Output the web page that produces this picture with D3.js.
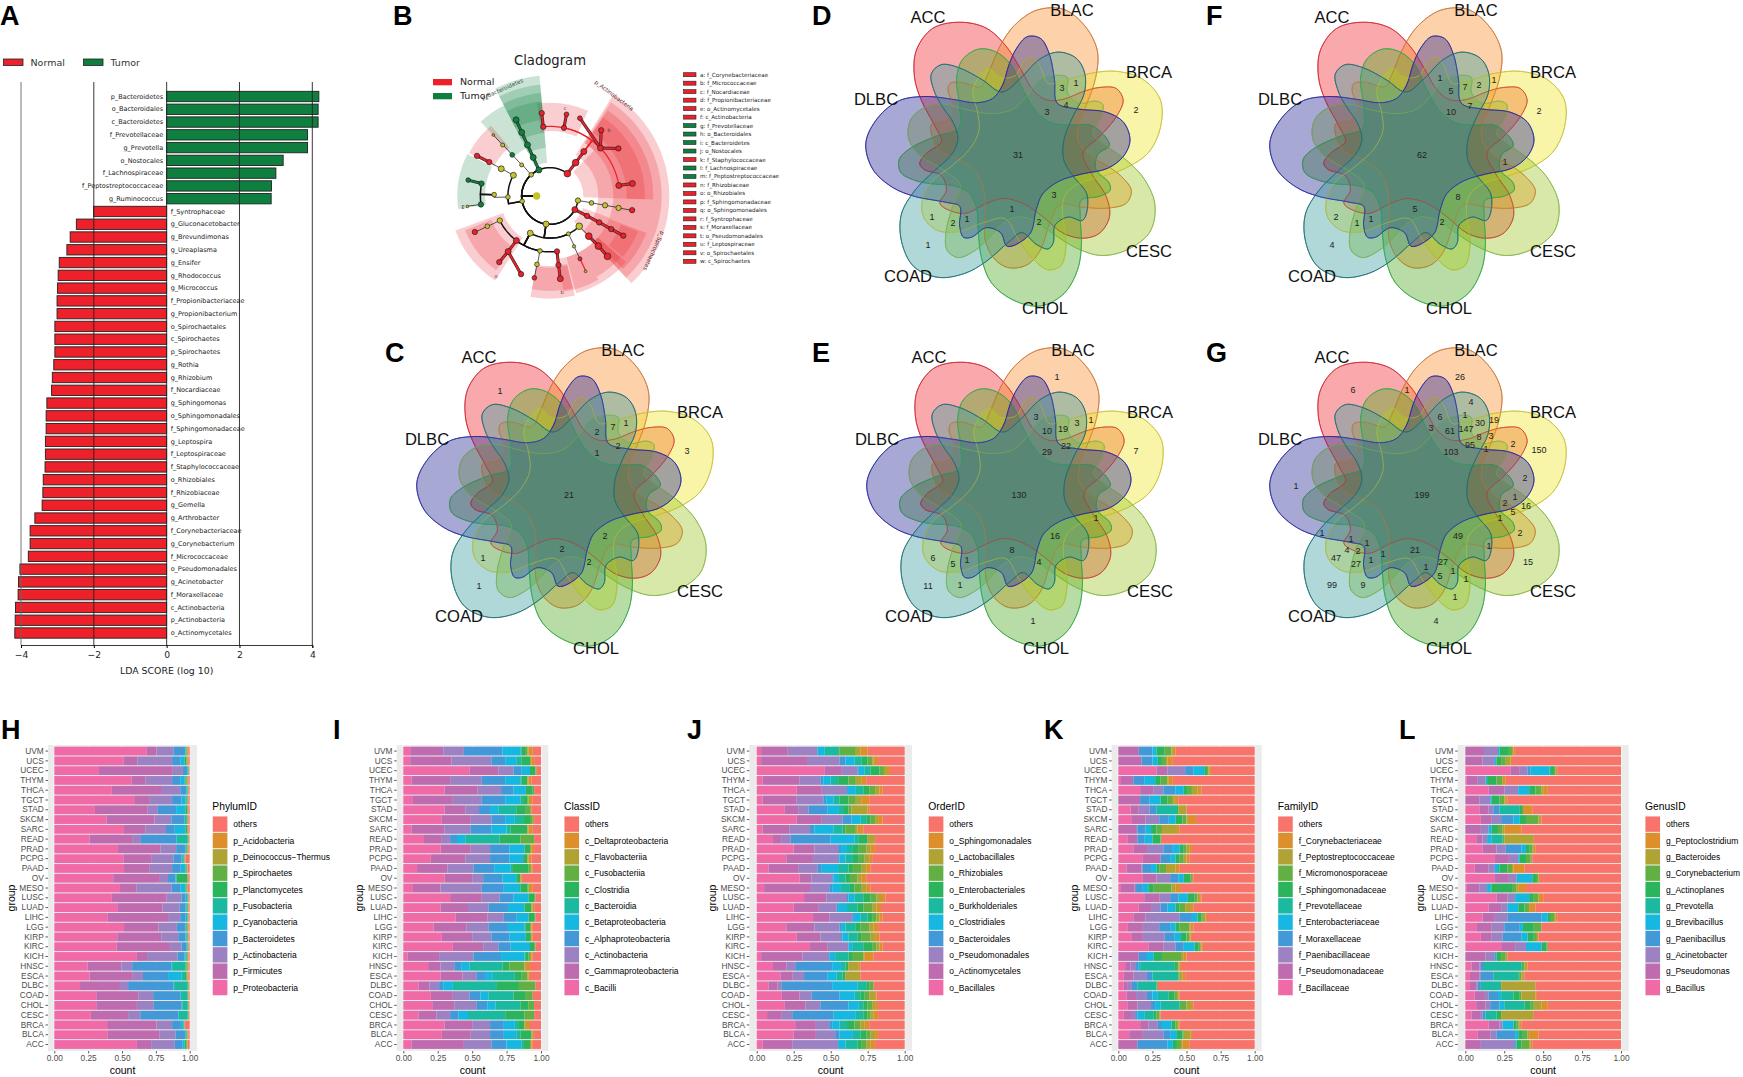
<!DOCTYPE html>
<html>
<head>
<meta charset="utf-8">
<script src="https://cdn.jsdelivr.net/npm/d3@7"></script>
<style>
html, body { margin: 0; padding: 0; background: #fff; }
svg { display: block; }
text { font-family: "Liberation Sans", Arial, sans-serif; }
.dv text, text.dv { font-family: "DejaVu Sans", sans-serif; }
</style>
</head>
<body>
<svg id="fig" width="1743" height="1077"></svg>
<script>
// ---- panel A : LDA scores
const ldaNames = ['p_Bacteroidetes','o_Bacteroidales','c_Bacteroidetes','f_Prevotellaceae','g_Prevotella','o_Nostocales','f_Lachnospiraceae','f_Peptostreptococcaceae','g_Ruminococcus',
  'f_Syntrophaceae','g_Gluconacetobacter','g_Brevundimonas','g_Ureaplasma','g_Ensifer','g_Rhodococcus','g_Micrococcus','f_Propionibacteriaceae','g_Propionibacterium','o_Spirochaetales','c_Spirochaetes','p_Spirochaetes','g_Rothia','g_Rhizobium','f_Nocardiaceae','g_Sphingomonas','o_Sphingomonadales','f_Sphingomonadaceae','g_Leptospira','f_Leptospiraceae','f_Staphylococcaceae','o_Rhizobiales','f_Rhizobiaceae','g_Gemella','g_Arthrobacter','f_Corynebacteriaceae','g_Corynebacterium','f_Micrococcaceae','o_Pseudomonadales','g_Acinetobacter','f_Moraxellaceae','c_Actinobacteria','p_Actinobacteria','o_Actinomycetales'];
const ldaScores = [4.18,4.16,4.16,3.87,3.87,3.2,3.0,2.88,2.87,
  -2.01,-2.48,-2.65,-2.74,-2.95,-2.98,-3.0,-3.01,-3.01,-3.07,-3.07,-3.07,-3.1,-3.14,-3.16,-3.29,-3.31,-3.31,-3.33,-3.33,-3.34,-3.39,-3.4,-3.42,-3.62,-3.75,-3.75,-3.8,-4.03,-4.07,-4.08,-4.15,-4.16,-4.17];
const ldaTicks = [-4,-2,0,2,4];

// ---- panel B : cladogram. id, parent, angle (deg, clockwise from north), level, kind, dot size
const cladeNodes = [
  ['pB','root',-23.2,0,'g',9],['cB','pB',-23.5,1,'g',9],['oB','cB',-23.8,2,'g',9],['fB','oB',-24,3,'g',9],['gB','fB',-24,4,'g',9],
  ['pU','root',-41.6,0,'y',7],['cU','pU',-42.4,1,'y',6],['oN','cU',-42.6,2,'g',7],['fU','oN',-42.9,3,'y',6],['gU','fU',-42.9,4,'y',4],
  ['pV','root',-100.6,0,'y',7],['cV','pV',-60.5,1,'y',9],['cW','pV',-91.4,1,'y',7],
  ['oV','cV',-60.8,2,'y',9],['fV','oV',-60.8,3,'r',8],['gV','fV',-61.2,4,'r',8],
  ['oW','cW',-88.6,2,'y',7],['fL','oW',-79.7,3,'g',8],['fP','oW',-97,3,'g',8],['gL','fL',-79,4,'g',7],['gP','fP',-97.2,4,'y',4],
  ['pA','root',37.8,0,'r',10],['cA','pA',37.6,1,'r',10],['oA','cA',37.3,2,'r',9],
  ['fA1','oA',-5.5,3,'r',8],['fA2','oA',11.6,3,'r',8],['fA3','oA',46.5,3,'r',9],['fA4','oA',81.3,3,'r',9],
  ['gA1','fA1',-5.7,4,'r',8],['gA2','fA2',11.4,4,'r',7],['gA3','fA3',21,4,'r',7],['gA4','fA3',37.9,4,'r',8],['gA5','fA3',55.2,4,'r',8],['gA6','fA4',81.4,4,'r',9],
  ['pY','root',-260.8,0,'y',8],['cY','pY',-260.5,1,'y',7],['oY','cY',-260.4,2,'y',8],['fY','oY',-260.1,3,'y',8],['gY','fY',-260.2,4,'r',8],
  ['pS','root',-241.3,0,'r',9],['cS','pS',-241.8,1,'r',8],['oS','cS',-241.8,2,'r',8],['fS','oS',-241.6,3,'r',8],['gS','fS',-241.6,4,'r',8],
  ['pF','root',-172,0,'y',9],
  ['cF1','pF',-152,1,'y',9],['cF2','pF',-206,1,'y',6],['cF3','pF',-224,1,'y',10],
  ['oF1','cF1',-116,2,'y',8],['oF2','cF1',-143,2,'r',9],['oF3','cF1',-169.6,2,'y',7],['oF4','cF1',-187.2,2,'r',8],
  ['fF1','oF1',-115.8,3,'y',7],['gF1','fF1',-115.6,4,'r',8],
  ['fF2','oF2',-143,3,'r',9],['gF2a','fF2',-142.5,4,'r',8],['gF2b','fF2',-159.7,4,'r',8],
  ['fF3','oF3',-169.2,3,'y',7],['gF3','fF3',-169.2,4,'r',7],
  ['fF4','oF4',-187,3,'r',8],['gF4','fF4',-187.1,4,'r',9],
  ['oF5','cF2',-205.5,2,'y',5],['fF5','oF5',-205.5,3,'r',6],['gF5','fF5',-205.3,4,'y',4],
  ['oF6','cF3',-224,2,'r',10],['fF6','oF6',-224,3,'r',10],['gF6','fF6',-223.6,4,'r',10]
];
// shaded clade sectors: from angle, to angle, inner, outer, kind
const cladeSectors = [
  [44,92,100,190,'r'],[32,110,145,358,'r'],[33,110,190,335,'r'],[34,92,190,310,'r'],[34,92,230,285,'r'],
  [110,137,105,358,'r'],[110,137,145,335,'r'],[111,135,190,310,'r'],[112,130,230,285,'r'],
  [131,165,190,302,'r'],[131,150,190,280,'r'],[150,172,190,290,'r'],
  [166,191,215,308,'r'],[166,191,210,285,'r'],
  [213,250,150,302,'r'],[216,248,190,275,'r'],
  [-8,24,195,280,'r'],[-62,-40,190,275,'r'],
  [-27,-5,100,362,'g'],[-27,-5,145,335,'g'],[-27,-5,190,310,'g'],[-27,-5,230,285,'g'],
  [-43,-27,160,305,'g'],[-98,-63,195,278,'g']
];
const cladeKeyNames = ['a: f_Corynebacteriaceae','b: f_Micrococcaceae','c: f_Nocardiaceae','d: f_Propionibacteriaceae','e: o_Actinomycetales','f: c_Actinobacteria','g: f_Prevotellaceae','h: o_Bacteroidales','i: c_Bacteroidetes','j: o_Nostocales','k: f_Staphylococcaceae','l: f_Lachnospiraceae','m: f_Peptostreptococcaceae','n: f_Rhizobiaceae','o: o_Rhizobiales','p: f_Sphingomonadaceae','q: o_Sphingomonadales','r: f_Syntrophaceae','s: f_Moraxellaceae','t: o_Pseudomonadales','u: f_Leptospiraceae','v: o_Spirochaetales','w: c_Spirochaetes'];
const cladeKeyKinds = ['r','r','r','r','r','r','g','g','g','g','r','g','g','r','r','r','r','r','r','r','r','r','r'];

// ---- panels C-G : seven set flower venn
const vennSets = ['ACC','BLAC','BRCA','CESC','CHOL','COAD','DLBC'];
const vennFill = ['#f0252f','#fa8c28','#f0e625','#9dc525','#4da71e','#399d9d','#252596'];
const vennEdge = ['#cf2a38','#c9773a','#c9c23c','#86b84a','#35a848','#1f6f73','#2a2aa0'];
// outline of one set, in picture px x3
const outlineAngle = [-23.7,-14,-6.1,2.2,13,27.3,39,45.7,50.4,55.9,62.4,68.7,77.3,88.5,104,115.3,124,133.8,142,150,158,174,199,213,223,238,244,255,261,265,271,280,288,299.6,307,315.9,326];
const outlineRadius = [435,392,327,255,200,186,215,272,318,356,356,317,251,195,227,293,331,339,317,271,200,146,138,173,240,276,239,238,284,296,275,233,258,334,389,438,458];
const vennC = [21,1,2,7,1,1,2,3,2,2,2,1,1];
const vennCSpots = [[0,0],[-69,-104],[28,-63],[44,-68],[57,-72],[28,-42],[49,-49],[118,-44],[36,41],[-7,54],[20,67],[-86,63],[-90,91]];
const vennD = [31,2,1,3,4,3,3,2,1,1,2,1,1];
const vennDSpots = [[0,0],[118,-45],[58,-72],[44,-67],[48,-50],[29,-43],[36,40],[21,67],[-6,54],[-51,64],[-65,68],[-86,62],[-90,90]];
const vennE = [130,1,3,10,19,3,1,22,29,7,1,16,8,4,1,5,6,1,11,1];
const vennESpots = [[0,0],[38,-118],[17,-78],[28,-64],[44,-66],[58,-72],[72,-75],[47,-49],[28,-43],[117,-44],[77,23],[36,41],[-7,55],[20,67],[-52,65],[-66,69],[-86,63],[-59,90],[-91,91],[14,126]];
const vennF = [62,1,5,7,2,1,10,7,2,1,8,5,2,1,1,2,4];
const vennFSpots = [[0,0],[18,-77],[29,-64],[43,-68],[57,-70],[72,-75],[29,-43],[48,-49],[117,-44],[83,7],[36,42],[-7,54],[20,67],[-51,64],[-65,68],[-86,62],[-90,90]];
const vennG = [199,26,6,1,4,1,19,30,6,3,61,147,8,3,2,95,1,150,103,2,1,2,16,5,1,2,49,1,15,27,1,5,1,1,1,21,4,1,1,1,1,4,2,47,27,9,99,1,1];
const vennGSpots = [[0,0],[38,-118],[-69,-105],[-15,-105],[49,-93],[43,-80],[72,-75],[58,-72],[18,-78],[9,-67],[28,-64],[44,-66],[57,-58],[69,-59],[91,-51],[48,-50],[64,-46],[117,-45],[29,-43],[103,-17],[93,2],[83,8],[104,11],[91,17],[78,23],[98,38],[36,41],[67,51],[106,67],[21,67],[31,76],[18,81],[44,84],[4,72],[33,102],[-7,55],[14,126],[-39,59],[-51,65],[-55,48],[-71,44],[-75,55],[-64,56],[-86,63],[-66,69],[-59,90],[-90,90],[-100,38],[-126,-9]];

// ---- panels H-L : stacked bars. cumulative percent after each legend entry, from the bottom entry up, "others" fills to 100
const groups = ['UVM','UCS','UCEC','THYM','THCA','TGCT','STAD','SKCM','SARC','READ','PRAD','PCPG','PAAD','OV','MESO','LUSC','LUAD','LIHC','LGG','KIRP','KIRC','KICH','HNSC','ESCA','DLBC','COAD','CHOL','CESC','BRCA','BLCA','ACC'];
const stackColors = ['#f06aa8','#bf6bb0','#9c82c2','#4398d8','#16b7e0','#1ab9a0','#2cb45c','#62b044','#b0a233','#dc8f2a','#f8736a'];
const phylumNames = ['others','p_Acidobacteria','p_Deinococcus\u2212Thermus','p_Spirochaetes','p_Planctomycetes','p_Fusobacteria','p_Cyanobacteria','p_Bacteroidetes','p_Actinobacteria','p_Firmicutes','p_Proteobacteria'];
const phylumCum = [
[68,75.5,88,96.5,96.7,97,97.5,98,98.5,99],[51,61.5,87,93,96,96.5,97.5,98,98.5,99],[33,87,95,98,98.5,99,99.2,99.4,99.6,99.8],[57,67.5,87,93,96,97,97.5,98,98.5,99],[42.5,79.5,93,97.5,98,98.3,98.6,99,99.2,99.5],[59,70,87,94,97,97.5,98,98.5,98.8,99],[30,69,76.5,90,96.5,97,98,98.5,98.8,99],[38.5,74,86.5,96,96.5,97.5,98,98.5,98.8,99],[51.5,67.5,82.5,89,96.5,97,98,98.5,98.8,99],[26,58,64,90,90.5,98.5,99,99.3,99.5,99.7],
[47,78.5,90,96.5,97,97.5,98,98.5,99,99.3],[51,72,88,94,95,95.5,96,96.3,96.6,97],[51.5,70.5,87,93,96.5,97,97.5,98,98.2,98.5],[43.5,78,84,89.5,90,90.5,98,98.5,99,99],[48.5,60.5,86.5,93,96.5,97,97.5,98,98.3,98.6],[42.5,83,94,97,98,98.3,98.6,99,99.2,99.5],[46.5,80,92.5,97,97.5,98,98.5,99,99.2,99.5],[39.5,84,93,97,98,98.3,98.6,99,99.2,99.5],[51.5,77,90.5,96.5,97,97.5,98,98.5,99,99.3],[46.5,79,91.5,97,97.5,98,98.5,98.8,99,99.3],
[46,85.5,94,97.5,98,98.3,98.6,99,99.2,99.5],[61,68.5,91,96,97,97.5,98,98.5,99,99.3],[24.5,49.5,57.5,86.5,87,97,97.5,98.5,99,99.3],[26,58,65.5,84,94,96.5,97.5,98,98.5,99],[19,48.5,54.5,88,88.5,98.5,99,99.3,99.5,99.7],[31,62,73,93,93.5,98,98.5,99,99.2,99.5],[31,61,73.5,94,94.5,98.5,99,99.3,99.5,99.7],[27,54.5,63.5,91.5,92,98.5,99,99.3,99.5,99.7],[39,75.5,87,93.5,95,95.5,96,96.2,96.4,96.6],[39.5,77.5,89.5,96.5,97,97.5,98,98.3,98.6,99],[61,71.5,89,94.5,96,96.5,97.5,98,98.3,98.6]];
const classNames = ['others','c_Deltaproteobacteria','c_Flavobacteriia','c_Fusobacteriia','c_Clostridia','c_Bacteroidia','c_Betaproteobacteria','c_Alphaproteobacteria','c_Actinobacteria','c_Gammaproteobacteria','c_Bacilli'];
const classCum = [
[5,29,44,72,85,86,89,90,91,94],[5,35,64,74,82,86,92,92,93,95],[48,69,80,86,92,92,96,96,97,97],[6,34,57,74,85,86,90,90,91,93],[30,54,71,80,89,89,94,95,95,95],[7,36,57,74,85,87,90,91,92,94],[30,45,55,63,69,82,89,92,93,93],[28,49,64,74,81,87,92,94,95,95],[6,30,49,64,75,78,90,90,91,94],[15,28,34,39,45,70,85,95,95,95],
[27,49,63,77,88,88,92,92,93,95],[20,45,63,77,87,87,90,90,91,93],[10,32,51,66,78,79,91,92,93,94],[30,50,58,72,82,82,85,85,85,86],[7,27,57,73,84,85,90,91,92,94],[34,57,70,80,91,91,95,96,96,96],[27,47,62,76,88,88,93,93,94,95],[38,61,73,82,91,91,95,96,96,96],[22,46,62,76,88,89,92,92,93,94],[28,50,64,77,89,89,92,93,93,94],
[36,58,69,78,92,92,95,96,96,96],[3,26,51,71,88,89,91,92,93,94],[18,27,37,42,48,72,77,88,89,92],[27,43,53,60,65,81,86,90,91,92],[11,19,26,29,36,68,84,96,96,96],[20,36,48,56,62,80,89,94,94,94],[21,37,53,61,67,85,91,95,95,95],[11,24,34,40,47,74,88,95,95,95],[30,50,63,73,81,84,88,88,89,92],[28,49,63,73,82,85,93,93,94,95],[6,44,64,75,86,87,92,92,93,94]];
const orderNames = ['others','o_Sphingomonadales','o_Lactobacillales','o_Rhizobiales','o_Enterobacteriales','o_Burkholderiales','o_Clostridiales','o_Bacteroidales','o_Pseudomonadales','o_Actinomycetales','o_Bacillales'];
const orderCum = [
[3,21,41,41,46,55,56,67,70,75],[3,34,56,60,66,71,75,78,79,82],[46,57,68,69,73,77,83,86,88,90],[4,29,43,45,50,55,62,67,71,74],[27,44,61,61,67,72,76,80,83,85],[4,27,45,47,52,56,62,67,71,76],[19,28,35,48,55,59,62,64,75,76],[27,44,58,64,70,74,77,80,82,85],[4,22,36,39,52,58,60,67,68,72],[11,17,23,50,66,69,75,75,80,80],
[25,39,55,57,61,65,69,74,77,80],[20,38,55,56,60,65,69,73,76,78],[8,28,41,44,55,62,65,71,74,77],[29,37,51,52,55,60,63,68,71,74],[5,36,49,51,57,63,66,71,74,77],[32,47,61,62,66,72,77,81,84,87],[25,42,54,55,61,68,72,78,81,84],[38,49,65,65,70,75,78,81,83,85],[20,39,56,57,60,67,70,76,79,82],[27,43,57,58,62,68,71,77,80,83],
[36,48,62,62,65,72,78,81,83,85],[3,31,49,49,53,62,65,72,73,79],[11,20,26,51,57,60,62,62,69,70],[16,24,32,48,54,58,60,60,70,70],[8,14,17,51,68,74,76,79,79,79],[17,29,37,56,66,70,73,76,80,81],[19,33,43,62,69,72,75,78,80,82],[7,17,24,52,67,72,75,77,79,82],[26,40,49,51,56,61,66,70,73,76],[25,40,53,56,65,70,74,77,80,82],[4,24,55,55,60,68,71,74,77,80]];
const familyNames = ['others','f_Corynebacteriaceae','f_Peptostreptococcaceae','f_Micromonosporaceae','f_Sphingomonadaceae','f_Prevotellaceae','f_Enterobacteriaceae','f_Moraxellaceae','f_Paenibacillaceae','f_Pseudomonadaceae','f_Bacillaceae'];
const familyCum = [
[0,15,15,25,28,28,34,39,40,42],[0,17,17,25,29,29,32,35,36,40],[28,36,49,55,63,63,65,66,67,68],[2,11,11,19,27,27,31,36,37,40],[16,26,33,42,48,48,51,54,58,61],[0,16,16,23,31,31,36,40,41,44],[9,15,23,28,28,43,44,44,50,50],[10,20,30,37,42,42,47,50,51,57],[0,13,14,20,24,24,28,32,43,45],[7,14,14,19,25,25,31,31,32,32],
[11,21,33,40,45,45,48,50,52,54],[18,31,31,38,42,42,45,48,50,52],[6,17,18,24,28,28,30,35,42,45],[18,28,38,44,48,48,53,54,54,55],[2,12,13,18,22,22,26,39,42,46],[19,30,38,44,51,51,56,58,60,61],[15,24,31,36,42,42,45,49,54,55],[11,20,45,54,58,58,61,62,64,65],[7,18,30,38,42,42,45,52,53,55],[10,18,34,41,46,46,50,52,53,54],
[22,33,42,48,56,56,59,60,61,62],[0,15,15,21,26,26,32,46,48,50],[5,9,13,15,16,41,43,44,45,46],[4,11,21,25,25,44,44,45,47,49],[4,7,10,14,14,28,28,29,29,29],[6,13,21,25,29,37,41,43,44,45],[7,14,24,27,31,45,45,50,54,55],[4,10,13,14,19,26,28,30,31,31],[16,22,29,32,39,39,42,43,44,45],[8,18,33,38,43,43,47,48,53,54],[0,14,14,36,40,40,43,46,47,52]];
const genusNames = ['others','g_Peptoclostridium','g_Bacteroides','g_Corynebacterium','g_Actinoplanes','g_Prevotella','g_Brevibacillus','g_Paenibacillus','g_Acinetobacter','g_Pseudomonas','g_Bacillus'];
const genusCum = [
[0,12,21,21,22,22,28,30,31,32],[0,11,19,19,20,20,23,26,29,30],[29,35,40,42,54,55,57,58,58,59],[1,8,13,13,14,14,20,24,24,26],[15,25,34,34,41,41,45,49,50,53],[0,9,16,16,17,17,22,25,26,27],[9,15,18,22,22,35,37,37,37,43],[10,17,23,31,35,35,39,47,48,49],[0,10,15,15,17,17,21,24,25,36],[7,11,14,14,17,24,24,25,44,44],
[11,20,26,36,39,39,41,43,44,45],[19,28,34,34,35,35,39,42,43,43],[6,15,19,19,21,22,27,30,31,38],[19,28,33,33,43,43,46,47,47,48],[1,9,14,14,16,17,30,33,34,39],[20,27,32,32,41,41,44,47,47,50],[15,23,27,27,34,34,38,41,41,45],[11,19,27,49,53,53,55,57,58,59],[7,17,25,35,37,37,44,49,49,49],[10,17,24,36,40,40,44,46,46,47],
[23,32,39,39,49,49,52,53,53,53],[0,13,19,19,20,20,23,26,27,27],[4,9,10,12,12,36,37,38,39,40],[3,9,10,18,18,34,35,36,37,38],[3,7,8,10,10,23,23,23,45,45],[6,12,15,21,23,31,35,36,45,46],[7,13,16,22,25,38,42,44,49,53],[4,10,11,13,13,20,23,23,44,44],[15,22,24,24,31,31,33,34,35,36],[8,16,20,32,34,34,37,40,41,47],[0,10,32,32,33,33,36,41,42,43]];
const countTicks = [0,0.25,0.5,0.75,1];

const svg = d3.select('#fig');
const rad = d => d * Math.PI / 180;

function drawLda() {
  const x = d3.scaleLinear().domain([-4, 4]).range([21, 312.3]);
  const y = d3.scaleBand().domain(ldaNames).range([88.9, 640.6]).padding(0.19);
  const g = svg.append('g');
  const rows = ldaNames.map((name, i) => ({ name, score: ldaScores[i] }));

  g.selectAll('rect.bar').data(rows).join('rect')
    .attr('class', 'bar')
    .attr('x', d => Math.min(x(0), x(d.score)))
    .attr('y', d => y(d.name))
    .attr('width', d => Math.abs(x(d.score) - x(0)))
    .attr('height', y.bandwidth())
    .attr('fill', d => d.score > 0 ? '#0e7f3f' : '#ee2029')
    .attr('stroke', '#222')
    .attr('stroke-width', 0.9);

  g.selectAll('line.grid').data(ldaTicks).join('line')
    .attr('x1', d => x(d)).attr('x2', d => x(d))
    .attr('y1', 82).attr('y2', 645)
    .attr('stroke', d => d === -4 ? '#666' : '#222')
    .attr('stroke-width', 0.9);

  g.selectAll('text.name').data(rows).join('text')
    .attr('class', 'name dv')
    .attr('x', d => d.score > 0 ? x(0) - 3.5 : x(0) + 4)
    .attr('y', d => y(d.name) + y.bandwidth() / 2 + 2.2)
    .attr('text-anchor', d => d.score > 0 ? 'end' : 'start')
    .attr('font-size', 6.5)
    .attr('fill', '#222')
    .text(d => d.name);

  const axis = g.append('g').attr('class', 'dv').attr('transform', 'translate(0,645)')
    .call(d3.axisBottom(x).tickValues(ldaTicks).tickSize(3).tickFormat(d3.format('d')));
  axis.select('.domain').attr('stroke', '#222').attr('stroke-width', 0.9);
  axis.selectAll('text').attr('font-size', 9.2).attr('fill', '#222')
    .style('font-family', '"DejaVu Sans", sans-serif');

  g.append('text').attr('class', 'dv').attr('x', x(0)).attr('y', 674)
    .attr('text-anchor', 'middle').attr('font-size', 9.4).attr('fill', '#222')
    .text('LDA SCORE (log 10)');

  const key = g.append('g').attr('class', 'dv');
  [['Normal', '#ee2029', 3.5], ['Tumor', '#0e7f3f', 83.5]].forEach(([label, fill, px]) => {
    key.append('rect').attr('x', px).attr('y', 59).attr('width', 19.5).attr('height', 6.5)
      .attr('fill', fill).attr('stroke', '#222').attr('stroke-width', 0.8);
    key.append('text').attr('x', px + 27).attr('y', 65.5).attr('font-size', 9.5)
      .attr('fill', '#333').text(label);
  });
}

function drawCladogram() {
  const cx = 550, cy = 196;
  const r = d3.scaleLinear().domain([0, 300]).range([0, 100]);
  const levelR = d3.scaleLinear().domain([0, 4]).range([85, 250]);
  const g = svg.append('g').attr('transform', `translate(${cx},${cy})`);
  const tint = { r: '#e8202a', g: '#0e7f3f' };

  const arc = d3.arc();
  g.selectAll('path.sector').data(cladeSectors).join('path')
    .attr('class', 'sector')
    .attr('d', d => arc({ startAngle: rad(d[0]), endAngle: rad(d[1]), innerRadius: r(d[2]), outerRadius: r(d[3]) }))
    .attr('fill', d => tint[d[4]])
    .attr('fill-opacity', 0.22);

  const nodes = new Map();
  nodes.set('root', { id: 'root', a: -90, rr: 40, kind: 'y', size: 11 });
  cladeNodes.forEach(([id, parent, a, level, kind, size]) => {
    nodes.set(id, { id, parent, a, rr: levelR(level), level, kind, size });
  });
  const pt = (a, rr) => [r(rr) * Math.sin(rad(a)), -r(rr) * Math.cos(rad(a))];
  const radial = d3.lineRadial().angle(d => rad(d[0])).radius(d => r(d[1]));

  // each edge: out from the parent, then along the child's circle
  const edges = cladeNodes.map(([id]) => {
    const c = nodes.get(id), p = nodes.get(c.parent);
    return { c, p, span: Math.abs(c.a - p.a) };
  });
  const edgePath = e => {
    const n = Math.max(2, Math.ceil(e.span / 2));
    const sweep = d3.range(n + 1).map(i => [e.p.a + (e.c.a - e.p.a) * i / n, e.c.rr]);
    return radial([[e.p.a, e.p.rr], ...sweep]);
  };
  const straight = e => e.c.kind !== 'y' && e.p.kind === e.c.kind && e.p.id !== 'root' && !(e.p.level === 2 && e.span > 5);

  const drawEdge = (e) => {
    if (straight(e)) {
      const d = 'M' + pt(e.p.a, e.p.rr) + 'L' + pt(e.c.a, e.c.rr);
      g.append('path').attr('d', d).attr('stroke', '#222').attr('stroke-width', 3).attr('fill', 'none');
      g.append('path').attr('d', d).attr('stroke', e.c.kind === 'r' ? '#ee2029' : '#0e7f3f').attr('stroke-width', 1.9).attr('fill', 'none');
    } else if (e.p.kind === 'r') {
      g.append('path').attr('d', edgePath(e)).attr('stroke', '#ee2029').attr('stroke-width', 1.2).attr('fill', 'none');
    } else {
      g.append('path').attr('d', edgePath(e)).attr('fill', 'none').attr('stroke', '#111')
        .attr('stroke-width', e.span > 5 ? 1.5 : 0.7);
    }
  };
  edges.forEach(drawEdge);

  const dotFill = { r: '#ee2029', g: '#0e7f3f', y: '#c5c22c' };
  g.selectAll('circle.node').data([...nodes.values()]).join('circle')
    .attr('class', 'node')
    .attr('cx', d => pt(d.a, d.rr)[0])
    .attr('cy', d => pt(d.a, d.rr)[1])
    .attr('r', d => r(d.size))
    .attr('fill', d => dotFill[d.kind])
    .attr('stroke', d => d.id === 'root' ? 'none' : '#222')
    .attr('stroke-width', 0.7);

  const labels = svg.append('g').attr('class', 'dv').attr('fill', '#5a2a2a');
  [['p_Bacteroidetes', 503, 91, -24, '#3c5a45'], ['p_Actinobacteria', 613, 97, 37, '#5a2a2a'], ['p_Spirochaetes', 652, 250, 115, '#5a2a2a']].forEach(([t, x, y, rot, fill]) => {
    labels.append('text').attr('transform', `translate(${x},${y}) rotate(${rot})`)
      .attr('text-anchor', 'middle').attr('font-size', 5.6).attr('fill', fill).text(t);
  });
  [['E', 463, 209], ['b', 562, 294], ['o', 496, 278], ['c', 565, 110], ['b', 609, 132]].forEach(([t, x, y]) => {
    labels.append('text').attr('x', x).attr('y', y).attr('text-anchor', 'middle').attr('font-size', 5).text(t);
  });

  const head = svg.append('g').attr('class', 'dv');
  head.append('text').attr('x', 550).attr('y', 65).attr('text-anchor', 'middle')
    .attr('font-size', 13.2).attr('fill', '#222').text('Cladogram');
  [['Normal', '#ee2029', 79], ['Tumor', '#0e7f3f', 93]].forEach(([t, fill, y]) => {
    head.append('rect').attr('x', 433).attr('y', y).attr('width', 19).attr('height', 6.3).attr('fill', fill);
    head.append('text').attr('x', 460).attr('y', y + 6.3).attr('font-size', 9.5).attr('fill', '#222').text(t);
  });

  const key = svg.append('g').attr('class', 'dv');
  const ky = d3.scalePoint().domain(cladeKeyNames).range([74.7, 261.3]);
  key.selectAll('rect').data(cladeKeyNames).join('rect')
    .attr('x', 683.5).attr('y', d => ky(d) - 2)
    .attr('width', 12.5).attr('height', 4)
    .attr('fill', (d, i) => dotFill[cladeKeyKinds[i]])
    .attr('stroke', '#222').attr('stroke-width', 0.6);
  key.selectAll('text').data(cladeKeyNames).join('text')
    .attr('x', 700).attr('y', d => ky(d) + 2)
    .attr('font-size', 5.6).attr('fill', '#222').text(d => d);
}

const vennLabelSpots = [[-90,-138],[54,-145],[131,-83],[131,96],[27,153],[-110,121],[-142,-56]];
const vennDrawOrder = [0, 1, 2, 3, 4, 6, 5];

function drawVenn(cx, cy, counts, spots) {
  const g = svg.append('g').attr('transform', `translate(${cx},${cy})`);
  const r = d3.scaleLinear().domain([0, 300]).range([0, 100]);
  const step = 360 / 7;
  const line = d3.lineRadial().curve(d3.curveCatmullRomClosed.alpha(0.5));
  vennDrawOrder.forEach(i => {
    const pts = outlineAngle.map((a, k) => [rad(a + i * step), r(outlineRadius[k])]);
    g.append('path').attr('d', line(pts))
      .attr('fill', vennFill[i]).attr('fill-opacity', 0.4)
      .attr('stroke', vennEdge[i]).attr('stroke-width', 0.9);
  });
  // outlines again on top, they show through the fills in the original
  vennDrawOrder.forEach(i => {
    const pts = outlineAngle.map((a, k) => [rad(a + i * step), r(outlineRadius[k])]);
    g.append('path').attr('d', line(pts)).attr('fill', 'none')
      .attr('stroke', vennEdge[i]).attr('stroke-opacity', 0.7).attr('stroke-width', 0.8);
  });
  g.selectAll('text.count').data(counts).join('text')
    .attr('class', 'count')
    .attr('x', (d, i) => spots[i][0]).attr('y', (d, i) => spots[i][1] + 3.2)
    .attr('text-anchor', 'middle').attr('font-size', 9).attr('fill', '#222').text(d => d);
  g.selectAll('text.set').data(vennSets).join('text')
    .attr('class', 'set')
    .attr('x', (d, i) => vennLabelSpots[i][0]).attr('y', (d, i) => vennLabelSpots[i][1] + 6)
    .attr('text-anchor', 'middle').attr('font-size', 16.6).attr('fill', '#111').text(d => d);
}

function drawStack(opts, names, cum) {
  const { panelL, panelR, zero, one, legendX } = opts;
  const x = d3.scaleLinear().domain([0, 1]).range([zero, one]);
  const y = d3.scaleBand().domain(groups).range([746.2, 1049.4]).paddingInner(0.1).paddingOuter(0.05);
  const g = svg.append('g');

  g.append('rect').attr('x', panelL).attr('y', 745).attr('width', panelR - panelL).attr('height', 306).attr('fill', '#ebebeb');
  g.selectAll('line.v').data(countTicks).join('line')
    .attr('class', 'v')
    .attr('x1', d => x(d)).attr('x2', d => x(d)).attr('y1', 745).attr('y2', 1051)
    .attr('stroke', '#fff').attr('stroke-width', 0.8);

  groups.forEach((grp, i) => {
    const edges = [0, ...cum[i].map(v => v / 100), 1];
    d3.pairs(edges).forEach(([a, b], k) => {
      if (b <= a) return;
      g.append('rect')
        .attr('x', x(a)).attr('y', y(grp))
        .attr('width', x(b) - x(a)).attr('height', y.bandwidth())
        .attr('fill', stackColors[k]);
    });
  });

  const ax = g.append('g').attr('transform', 'translate(0,1051)')
    .call(d3.axisBottom(x).tickValues(countTicks).tickSize(2.5).tickPadding(1.5).tickFormat(d3.format('.2f')));
  const ay = g.append('g').attr('transform', `translate(${panelL},0)`)
    .call(d3.axisLeft(y).tickSize(2.5).tickPadding(1.8));
  [ax, ay].forEach(a => {
    a.select('.domain').remove();
    a.selectAll('line').attr('stroke', '#333').attr('stroke-width', 0.8);
    a.selectAll('text').attr('font-size', 8.3).attr('fill', '#4d4d4d')
      .style('font-family', '"Liberation Sans", Arial, sans-serif');
  });

  g.append('text').attr('x', (panelL + panelR) / 2).attr('y', 1074).attr('text-anchor', 'middle')
    .attr('font-size', 10.5).attr('fill', '#000').text('count');
  g.append('text').attr('transform', `translate(${panelL - 33.5},898) rotate(-90)`).attr('text-anchor', 'middle')
    .attr('font-size', 10.5).attr('fill', '#000').text('group');

  const leg = g.append('g');
  leg.append('text').attr('x', legendX).attr('y', 809.5).attr('font-size', 10.3).attr('fill', '#000').text(opts.title);
  const ky = d3.scaleBand().domain(names).range([816, 995.7]);
  leg.selectAll('rect').data(names).join('rect')
    .attr('x', legendX).attr('y', d => ky(d))
    .attr('width', 15.5).attr('height', ky.bandwidth())
    .attr('fill', '#f2f2f2');
  leg.selectAll('rect.fill').data(names).join('rect')
    .attr('class', 'fill')
    .attr('x', legendX + 0.5).attr('y', d => ky(d) + 0.5)
    .attr('width', 14.5).attr('height', ky.bandwidth() - 1)
    .attr('fill', (d, i) => stackColors[10 - i]);
  leg.selectAll('text.k').data(names).join('text')
    .attr('class', 'k')
    .attr('x', legendX + 21).attr('y', d => ky(d) + ky.bandwidth() / 2 + 3)
    .attr('font-size', 8.5).attr('fill', '#000').text(d => d);
}

function drawLetters() {
  const letters = [['A',0,25],['B',393,25],['C',385,362],['D',812,25],['E',812,362],['F',1206,25],['G',1206,362],
    ['H',1,739],['I',333,739],['J',687,739],['K',1044,739],['L',1399,739]];
  svg.append('g').selectAll('text').data(letters).join('text')
    .attr('x', d => d[1]).attr('y', d => d[2])
    .attr('font-size', 27).attr('font-weight', 'bold').attr('fill', '#000')
    .text(d => d[0]);
}

drawLda();
drawCladogram();
drawVenn(569, 495, vennC, vennCSpots);
drawVenn(1018, 155, vennD, vennDSpots);
drawVenn(1019, 495, vennE, vennESpots);
drawVenn(1422, 155, vennF, vennFSpots);
drawVenn(1422, 495, vennG, vennGSpots);
drawStack({ title: 'PhylumID', panelL: 48, panelR: 197, zero: 54.3, one: 189.7, legendX: 212.3 }, phylumNames, phylumCum);
drawStack({ title: 'ClassID', panelL: 396.7, panelR: 548.3, zero: 403.3, one: 541, legendX: 564 }, classNames, classCum);
drawStack({ title: 'OrderID', panelL: 749.3, panelR: 912, zero: 756.7, one: 904.7, legendX: 928.3 }, orderNames, orderCum);
drawStack({ title: 'FamilyID', panelL: 1111.7, panelR: 1261.7, zero: 1118.3, one: 1254.7, legendX: 1277.7 }, familyNames, familyCum);
drawStack({ title: 'GenusID', panelL: 1457.7, panelR: 1628.7, zero: 1465.3, one: 1621, legendX: 1645 }, genusNames, genusCum);
drawLetters();
</script>
</body>
</html>
